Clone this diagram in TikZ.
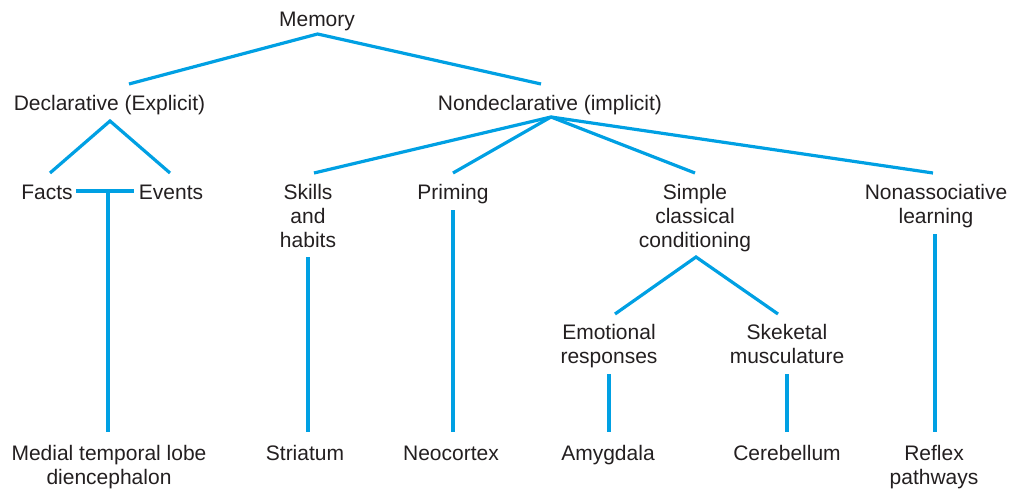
\documentclass[tikz,border=0pt]{standalone}
\usepackage{fontspec}
\setmainfont{Liberation Sans}
\definecolor{link}{RGB}{0,160,227}
\definecolor{ink}{RGB}{35,31,32}
\begin{document}
\begin{tikzpicture}[x=1pt,y=-1pt,
  lbl/.style={inner sep=0pt, anchor=base, align=center, text=ink, font=\fontsize{21}{24}\selectfont},
  conn/.style={draw=link, line width=3.2pt}]
\useasboundingbox (0,0) rectangle (1011,489);
% text nodes (anchor base = baseline of last line)
\node[lbl] (mem) at (317,26.5) {Memory};
\node[lbl] (decl) at (109.5,111) {Declarative (Explicit)};
\node[lbl] (nondecl) at (550,111) {Nondeclarative (implicit)};
\node[lbl] (facts) at (47,199) {Facts};
\node[lbl] (events) at (171,199) {Events};
\node[lbl] (skills) at (308,247) {Skills\\and\\habits};
\node[lbl] (priming) at (453,199) {Priming};
\node[lbl] (simple) at (695,247) {Simple\\classical\\conditioning};
\node[lbl] (nonassoc) at (936,223) {Nonassociative\\learning};
\node[lbl] (emot) at (609,363) {Emotional\\responses};
\node[lbl] (skel) at (787,363) {Skeketal\\musculature};
\node[lbl] (medial) at (109,484) {Medial temporal lobe\\diencephalon};
\node[lbl] (striatum) at (305,460) {Striatum};
\node[lbl] (neocortex) at (451,460) {Neocortex};
\node[lbl] (amygdala) at (608,460) {Amygdala};
\node[lbl] (cerebellum) at (787,460) {Cerebellum};
\node[lbl] (reflex) at (934,484) {Reflex\\pathways};
% connector end points
\coordinate (memA) at (317.6,34);
\coordinate (declT) at (129,84);
\coordinate (nondeclT) at (541,84);
\coordinate (declA) at (110,121);
\coordinate (factsT) at (50,173);
\coordinate (eventsT) at (170,173);
\coordinate (factsR) at (76,191);
\coordinate (eventsL) at (134,191);
\coordinate (feMid) at (108,191);
\coordinate (medialT) at (108,432);
\coordinate (ndA) at (551,117);
\coordinate (skillsT) at (314,173);
\coordinate (primingT) at (453,173);
\coordinate (simpleT) at (695,173);
\coordinate (nonassocT) at (933,173);
\coordinate (skillsB) at (308,257);
\coordinate (striatumT) at (308,432);
\coordinate (primingB) at (453,210);
\coordinate (neocortexT) at (453,432);
\coordinate (simpleA) at (696,257);
\coordinate (emotT) at (615,314);
\coordinate (skelT) at (778,314);
\coordinate (emotB) at (609,374);
\coordinate (amygdalaT) at (609,432);
\coordinate (skelB) at (787,374);
\coordinate (cerebellumT) at (787,432);
\coordinate (nonassocB) at (935,234);
\coordinate (reflexT) at (935,432);
% connectors
\draw[conn] (declT) -- (memA) -- (nondeclT);
\draw[conn] (factsT) -- (declA) -- (eventsT);
\draw[conn] (factsR) -- (eventsL);
\draw[conn] (feMid) -- (medialT);
\draw[conn] (skillsT) -- (ndA) -- (nonassocT);
\draw[conn] (ndA) -- (primingT);
\draw[conn] (ndA) -- (simpleT);
\draw[conn] (skillsB) -- (striatumT);
\draw[conn] (primingB) -- (neocortexT);
\draw[conn] (emotT) -- (simpleA) -- (skelT);
\draw[conn] (emotB) -- (amygdalaT);
\draw[conn] (skelB) -- (cerebellumT);
\draw[conn] (nonassocB) -- (reflexT);
\end{tikzpicture}
\end{document}
